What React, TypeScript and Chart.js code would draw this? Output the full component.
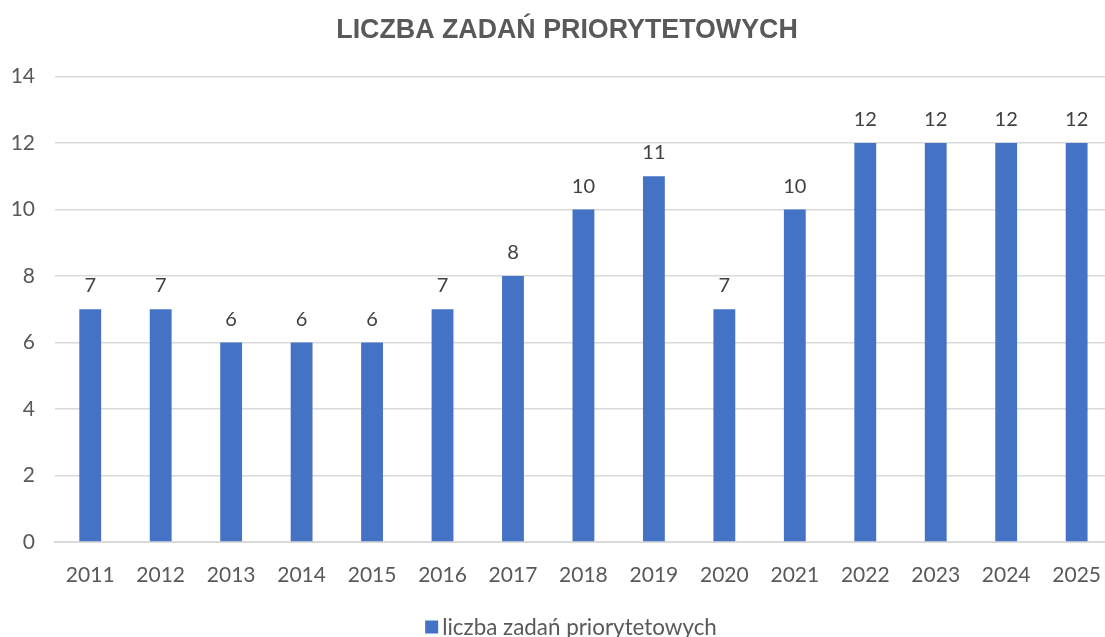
import React, { useEffect, useRef } from "react";
import { Chart, registerables } from "chart.js";

Chart.register(...registerables);

const years = ["2011","2012","2013","2014","2015","2016","2017","2018","2019","2020","2021","2022","2023","2024","2025"];
const values = [7, 7, 6, 6, 6, 7, 8, 10, 11, 7, 10, 12, 12, 12, 12];
const seriesName = "liczba zadań priorytetowych";
const titleText = "LICZBA ZADAŃ PRIORYTETOWYCH";
const yMin = 0;
const yMax = 14;
const yStep = 2;

const BAR_COLOR = "#4472C4";
const FONT = "Lato, 'Open Sans', sans-serif";
const TITLE_FONT = "bold 26.8px 'Liberation Sans', Arial, sans-serif";

const dataLabelPlugin = {
  id: "dataLabels",
  afterDatasetsDraw(chart: any) {
    const ctx = chart.ctx;
    const meta = chart.getDatasetMeta(0);
    ctx.save();
    ctx.font = `20px ${FONT}`;
    ctx.fillStyle = "#404040";
    ctx.textAlign = "center";
    ctx.textBaseline = "alphabetic";
    meta.data.forEach((bar: any, i: number) => {
      ctx.fillText(String(chart.data.datasets[0].data[i]), bar.x, bar.y - 17);
    });
    ctx.restore();
  },
};

const titleLegendPlugin = {
  id: "customTitleLegend",
  afterDraw(chart: any) {
    const ctx = chart.ctx;
    ctx.save();
    ctx.font = TITLE_FONT;
    ctx.fillStyle = "#595959";
    ctx.textAlign = "center";
    ctx.textBaseline = "middle";
    ctx.fillText(titleText, 567, 31);

    // legend
    ctx.font = `22.4px ${FONT}`;
    const tw = ctx.measureText(seriesName).width;
    const box = 13;
    const gap = 4;
    const total = box + gap + tw;
    const left = 571 - total / 2;
    const cy = 627;
    ctx.fillStyle = BAR_COLOR;
    ctx.fillRect(left, cy - box / 2, box, box);
    ctx.fillStyle = "#595959";
    ctx.textAlign = "left";
    ctx.textBaseline = "middle";
    ctx.fillText(seriesName, left + box + gap, cy + 1);
    ctx.restore();
  },
};

export default function App() {
  const ref = useRef<HTMLCanvasElement>(null);
  useEffect(() => {
    document.body.style.margin = "0";
    document.body.style.overflow = "hidden";
    const chart = new Chart(ref.current!, {
      type: "bar",
      data: {
        labels: years,
        datasets: [
          {
            label: seriesName,
            data: values,
            backgroundColor: BAR_COLOR,
            borderWidth: 0,
            barPercentage: 0.62,
            categoryPercentage: 0.5,
          },
        ],
      },
      options: {
        responsive: false,
        animation: false,
        layout: { padding: { left: 0, right: 0, top: 0, bottom: 35 } },
        plugins: {
          title: {
            display: true,
            text: titleText,
            color: "rgba(0,0,0,0)",
            font: { family: "'Liberation Sans', Arial, sans-serif", size: 23, weight: "bold" },
            padding: { top: 17, bottom: 32 },
          },
          legend: { display: false },
          tooltip: { enabled: false },
        },
        scales: {
          x: {
            grid: { display: false },
            border: { display: true, color: "#d9d9d9", width: 2 },
            ticks: { color: "#595959", font: { family: FONT, size: 21 }, padding: 13 },
            afterFit: (s: any) => { s.height = 60; },
          },
          y: {
            min: yMin,
            max: yMax,
            ticks: { stepSize: yStep, color: "#595959", font: { family: FONT, size: 21 }, padding: 20 },
            grid: { color: "#d9d9d9", lineWidth: 1.5, drawTicks: false },
            border: { display: false },
            afterFit: (s: any) => { s.width = 55; },
          },
        },
      },
      plugins: [dataLabelPlugin, titleLegendPlugin],
    });
    return () => chart.destroy();
  }, []);
  return <canvas ref={ref} width={1114} height={637} style={{ display: "block" }} />;
}
